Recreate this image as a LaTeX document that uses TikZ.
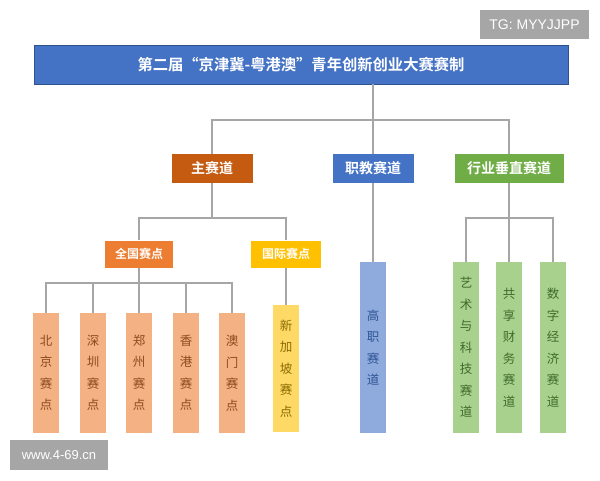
\documentclass[tikz,border=0pt]{standalone}
\usepackage{fontspec}
\setmainfont{Liberation Sans}
\newfontfamily\cjk{Noto Sans CJK SC}[BoldFont={Noto Sans CJK SC Bold}]
\definecolor{titleblue}{HTML}{4472C4}
\definecolor{titleedge}{HTML}{2F528F}
\definecolor{zhucol}{HTML}{C55A11}
\definecolor{hangcol}{HTML}{70AD47}
\definecolor{quancol}{HTML}{ED7D31}
\definecolor{guojicol}{HTML}{FFC000}
\definecolor{leaforange}{HTML}{F4B183}
\definecolor{leafyellow}{HTML}{FFD966}
\definecolor{leafblue}{HTML}{8FAADC}
\definecolor{leafgreen}{HTML}{A9D18E}
\definecolor{txtorange}{HTML}{8C4A1F}
\definecolor{txtyellow}{HTML}{8A6A00}
\definecolor{txtblue}{HTML}{2F5597}
\definecolor{txtgreen}{HTML}{3F6B2A}
\definecolor{linegray}{HTML}{A6A6A6}
\definecolor{markgray}{HTML}{A6A6A6}
\begin{document}
\begin{tikzpicture}[x=1pt,y=-1pt,
  hdr/.style={inner sep=0pt,text=white,font=\cjk\bfseries\fontsize{14}{14}\selectfont},
  sub/.style={inner sep=0pt,text=white,minimum height=27pt,font=\cjk\bfseries\fontsize{12}{12}\selectfont},
  leaf/.style={inner sep=0pt,minimum width=26pt,align=center,font=\cjk\fontsize{12.5}{21.5}\selectfont},
  orangeleaf/.style={leaf,fill=leaforange,text=txtorange,minimum height=120pt},
  greenleaf/.style={leaf,fill=leafgreen,text=txtgreen,minimum height=171pt},
  watermark/.style={inner sep=0pt,fill=markgray,text=white},
  link/.style={draw=linegray,line width=1.2pt}]
\fill [white] (0,0) rectangle (600,480);
\useasboundingbox (0,0) rectangle (600,480);
\node[watermark,minimum width=109pt,minimum height=29pt,font=\fontsize{14}{14}\selectfont] (tg) at (534.5,24.5) {TG: MYYJJPP};
\node[watermark,minimum width=98pt,minimum height=30pt,font=\fontsize{13}{13}\selectfont] (www) at (59,455) {www.4-69.cn};
\node[hdr,fill=titleblue,draw=titleedge,minimum width=534pt,minimum height=39pt,font=\cjk\bfseries\fontsize{15.3}{15.3}\selectfont] (title) at (301,64.5) {第二届“京津冀-粤港澳”青年创新创业大赛赛制};
\node[hdr,fill=zhucol,minimum width=81pt,minimum height=29pt] (zhu) at (212,168.5) {主赛道};
\node[hdr,fill=titleblue,minimum width=81pt,minimum height=29pt] (zhijiao) at (373,168.5) {职教赛道};
\node[hdr,fill=hangcol,minimum width=109pt,minimum height=29pt] (hangye) at (509,168.5) {行业垂直赛道};
\node[sub,fill=quancol,minimum width=68pt] (quanguo) at (139,254) {全国赛点};
\node[sub,fill=guojicol,minimum width=70pt] (guoji) at (286,254) {国际赛点};
\node[orangeleaf] (beijing) at (46,373) {北\\京\\赛\\点};
\node[orangeleaf] (shenzhen) at (93,373) {深\\圳\\赛\\点};
\node[orangeleaf] (zhengzhou) at (139,373) {郑\\州\\赛\\点};
\node[orangeleaf] (xianggang) at (186,373) {香\\港\\赛\\点};
\node[orangeleaf] (aomen) at (232,373) {澳\\门\\赛\\点};
\node[leaf,fill=leafyellow,text=txtyellow,minimum height=127pt] (xinjiapo) at (286,368.5) {新\\加\\坡\\赛\\点};
\node[leaf,fill=leafblue,text=txtblue,minimum height=171pt] (gaozhi) at (373,347.5) {高\\职\\赛\\道};
\node[greenleaf] (yishu) at (466,347.5) {艺\\术\\与\\科\\技\\赛\\道};
\node[greenleaf] (gongxiang) at (509,347.5) {共\\享\\财\\务\\赛\\道};
\node[greenleaf] (shuzi) at (553,347.5) {数\\字\\经\\济\\赛\\道};
\coordinate (bus1) at (373,120);
\coordinate (bus2) at (212,218);
\coordinate (bus3) at (139,283);
\coordinate (bus4) at (509,218);
\draw[link] (title.south -| zhijiao) -- (zhijiao.north);
\draw[link] (zhu.north) |- (bus1) -| (hangye.north);
\draw[link] (zhu.south) -- (bus2);
\draw[link] (quanguo.north) |- (bus2) -| (guoji.north);
\draw[link] (quanguo.south) -- (zhengzhou.north);
\draw[link] (beijing.north) |- (bus3) -| (aomen.north);
\draw[link] (shenzhen.north) -- (shenzhen.north |- bus3);
\draw[link] (xianggang.north) -- (xianggang.north |- bus3);
\draw[link] (guoji.south) -- (xinjiapo.north);
\draw[link] (zhijiao.south) -- (gaozhi.north);
\draw[link] (hangye.south) -- (gongxiang.north);
\draw[link] (yishu.north) |- (bus4) -| (shuzi.north);
\end{tikzpicture}
\end{document}
